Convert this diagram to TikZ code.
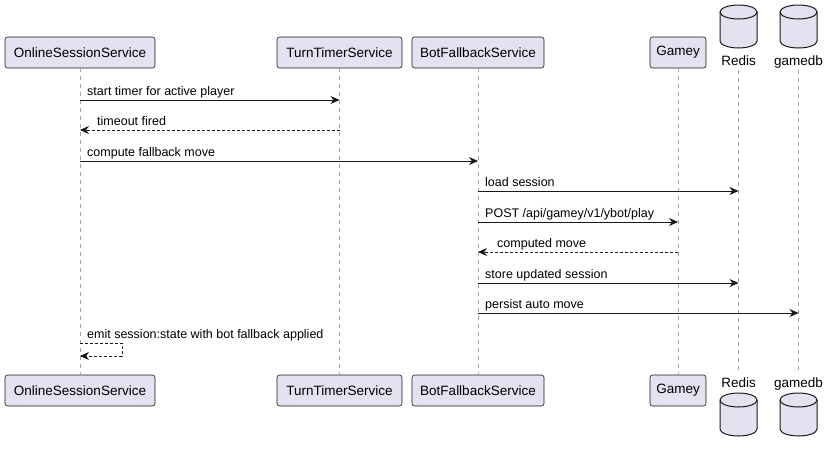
\documentclass[tikz,border=0pt]{standalone}
\usepackage{fontspec}
\setmainfont{Liberation Sans}
\usetikzlibrary{arrows.meta}
\definecolor{pfill}{RGB}{226,226,240}
\definecolor{pdraw}{RGB}{24,24,24}
\begin{document}
\begin{tikzpicture}[x=1pt,y=-1pt,
  part/.style={draw=pdraw,fill=pfill,rounded corners=2.5pt,line width=0.6pt,minimum height=31pt,inner xsep=5pt,font=\fontsize{13.5}{15}\selectfont},
  life/.style={draw=gray!70,dashed,dash pattern=on 4pt off 4pt,line width=0.6pt},
  msg/.style={draw=pdraw,line width=0.7pt,-{Stealth[length=9pt,width=8pt]}},
  ret/.style={msg,dashed,dash pattern=on 3pt off 2pt},
  lbl/.style={font=\fontsize{12.5}{14}\selectfont,anchor=base west,inner sep=0pt},
  cyl/.style={draw=pdraw,fill=pfill,line width=1pt},
  dbl/.style={font=\fontsize{13.5}{15}\selectfont,inner sep=0pt,anchor=base}]
\useasboundingbox (0,0) rectangle (832,453);
\node[part,minimum width=150pt] (a1) at (80,52.5) {OnlineSessionService};
\node[part,minimum width=125pt] (b1) at (339.5,52.5) {TurnTimerService};
\node[part,minimum width=132pt] (c1) at (478,52.5) {BotFallbackService};
\node[part,minimum width=56pt] (d1) at (678,52.5) {Gamey};
\node[part,minimum width=150pt] (a2) at (80,390.5) {OnlineSessionService};
\node[part,minimum width=125pt] (b2) at (339.5,390.5) {TurnTimerService};
\node[part,minimum width=132pt] (c2) at (478,390.5) {BotFallbackService};
\node[part,minimum width=56pt] (d2) at (678,390.5) {Gamey};
% databases: #1 x center, #2 top y
\newcommand\dbcyl[2]{%
  \path[cyl] (#1-18.5,#2+7) arc[start angle=180,end angle=360,x radius=18.5,y radius=7] -- (#1+18.5,#2+36) arc[start angle=0,end angle=180,x radius=18.5,y radius=7] -- cycle;
  \draw[cyl,fill=none] (#1-18.5,#2+7) arc[start angle=180,end angle=0,x radius=18.5,y radius=7];}
\dbcyl{738.5}{5}
\dbcyl{798.5}{5}
\dbcyl{738.5}{393}
\dbcyl{798.5}{393}
\node[dbl] (e1) at (738.5,65) {Redis};
\node[dbl] (f1) at (798.5,65) {gamedb};
\node[dbl] (e2) at (738.5,387) {Redis};
\node[dbl] (f2) at (798.5,387) {gamedb};
\coordinate (e1b) at (738.5,70); \coordinate (e2t) at (738.5,374);
\coordinate (f1b) at (798.5,70); \coordinate (f2t) at (798.5,374);
\draw[life] (a1.south) -- (a2.north);
\draw[life] (b1.south) -- (b2.north);
\draw[life] (c1.south) -- (c2.north);
\draw[life] (d1.south) -- (d2.north);
\draw[life] (e1b) -- (e2t);
\draw[life] (f1b) -- (f2t);
% messages
\draw[msg] (80,100) -- (339.5,100);
\node[lbl] (m1) at (87,95.5) {start timer for active player};
\draw[ret] (339.5,130) -- (80,130);
\node[lbl] (m2) at (97,125.5) {timeout fired};
\draw[msg] (80,161) -- (478,161);
\node[lbl] (m3) at (87,156.5) {compute fallback move};
\draw[msg] (478,191) -- (738.5,191);
\node[lbl] (m4) at (485,186.5) {load session};
\draw[msg] (478,222) -- (678,222);
\node[lbl] (m5) at (485,217.5) {POST /api/gamey/v1/ybot/play};
\draw[ret] (678,252) -- (478,252);
\node[lbl] (m6) at (497,247.5) {computed move};
\draw[msg] (478,283) -- (738.5,283);
\node[lbl] (m7) at (485,278.5) {store updated session};
\draw[msg] (478,313) -- (798.5,313);
\node[lbl] (m8) at (485,308.5) {persist auto move};
\draw[ret] (80,343) -- (122,343) -- (122,356) -- (80,356);
\node[lbl] (m9) at (87,338.5) {emit session:state with bot fallback applied};
\end{tikzpicture}
\end{document}
